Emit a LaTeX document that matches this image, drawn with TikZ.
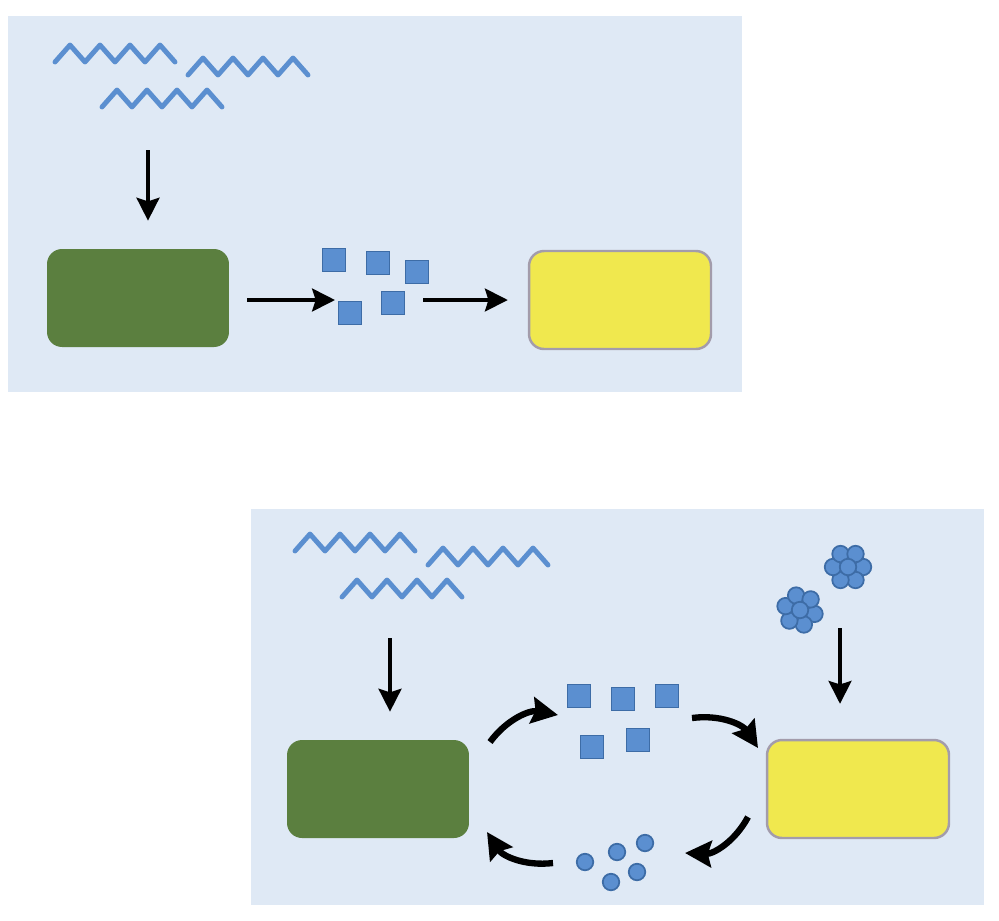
\documentclass[tikz,border=0pt]{standalone}
\usetikzlibrary{arrows.meta}
\definecolor{panel}{HTML}{DFE9F5}
\definecolor{wellenblau}{HTML}{5B8FD0}
\definecolor{randblau}{HTML}{3D6CA6}
\definecolor{gruen}{HTML}{5B7F3F}
\definecolor{gelb}{HTML}{F0E84E}
\definecolor{grau}{HTML}{A39CAB}
\begin{document}
\begin{tikzpicture}[x=0.02cm,y=-0.02cm,
  welle/.style={wellenblau,line width=2.8pt,line join=round,line cap=round},
  pfeil/.style={line width=2.1pt,-{Stealth[length=13pt,width=13pt,inset=2pt]}},
  bogen/.style={line width=3.6pt,-{Stealth[length=15pt,width=15pt,inset=2pt]},bend left=32},
  kasten/.style={rounded corners=0.3cm,minimum width=3.64cm,minimum height=1.96cm,inner sep=0pt},
  zelle/.style={kasten,fill=gruen},
  hefe/.style={kasten,fill=gelb,draw=grau,line width=1.4pt},
  quadrat/.style={fill=wellenblau,draw=randblau,line width=1pt,minimum size=0.46cm,inner sep=0pt},
  kugel/.style={circle,fill=wellenblau,draw=randblau,line width=1pt,minimum size=0.33cm,inner sep=0pt}]
  \useasboundingbox (0,0) rectangle (999,920);
  % Hintergrund
  \fill[panel] (8,16) rectangle (742,392);
  \fill[panel] (251,509) rectangle (984,905);
  % Wellenlinien
  \foreach \x/\y in {55/62,188/75,102/107,295/551,428/565,342/597} {
    \draw[welle] (\x,\y) \foreach \k in {1,...,4} {-- ++(15,-17) -- ++(15,17)};
  }
  % Kaesten
  \node[zelle] (gruenA) at (138,298) {};
  \node[hefe] (gelbA) at (620,300) {};
  \node[zelle] (gruenB) at (378,789) {};
  \node[hefe] (gelbB) at (858,789) {};
  % Quadrate
  \foreach \x/\y [count=\i] in {334/260,378/263,417/272,350/313,393/303}
    \node[quadrat] (qA\i) at (\x,\y) {};
  \foreach \x/\y [count=\i] in {579/696,623/699,667/696,592/747,638/740}
    \node[quadrat] (qB\i) at (\x,\y) {};
  % Kugeln
  \foreach \x/\y [count=\i] in {585/862,617/852,645/843,637/872,611/882}
    \node[kugel] (k\i) at (\x,\y) {};
  % Kugelhaufen
  \foreach \cx/\cy/\dreh [count=\j] in {848/567/0,800/610/15} {
    \foreach \w [count=\i] in {0,60,...,300}
      \node[kugel] (h\j-\i) at ({\cx+15*cos(\w+\dreh)},{\cy+15*sin(\w+\dreh)}) {};
    \node[kugel] (h\j-0) at (\cx,\cy) {};
  }
  % Pfeile oben
  \coordinate (wA) at (148,150);
  \coordinate (vorA) at (335,300);
  \coordinate (nachA) at (423,300);
  \draw[pfeil,shorten >=0.56cm] (wA) -- (wA |- gruenA.north);
  \draw[pfeil,shorten <=0.36cm] (gruenA.east |- vorA) -- (vorA);
  \draw[pfeil,shorten >=0.4cm] (nachA) -- (gelbA.west |- nachA);
  % Pfeile unten
  \coordinate (wB) at (390,638);
  \coordinate (wC) at (840,628);
  \draw[pfeil,shorten >=0.56cm] (wB) -- (wB |- gruenB.north);
  \draw[pfeil,shorten >=0.7cm] (wC) -- (wC |- gelbB.north);
  % Kreislauf
  \coordinate (b1) at (490,742);
  \coordinate (b2) at (558,715);
  \coordinate (b3) at (692,718);
  \coordinate (b4) at (758,748);
  \coordinate (b5) at (748,817);
  \coordinate (b6) at (685,853);
  \coordinate (b7) at (553,863);
  \coordinate (b8) at (487,832);
  \draw[bogen] (b1) to (b2);
  \draw[bogen] (b3) to (b4);
  \draw[bogen] (b5) to (b6);
  \draw[bogen] (b7) to (b8);
\end{tikzpicture}
\end{document}
